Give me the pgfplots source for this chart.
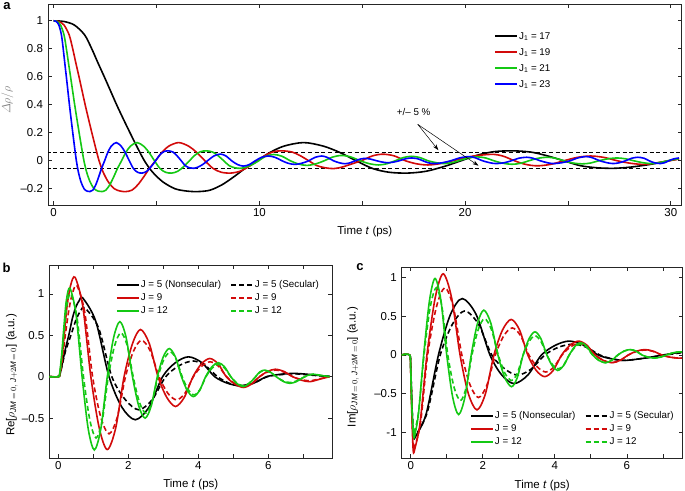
\documentclass[border=0pt]{standalone}
\usepackage{pgfplots}
\pgfplotsset{compat=1.18}
\usepackage{amsmath}
\usepackage{fontspec}
\setmainfont{Liberation Sans}
\usetikzlibrary{arrows.meta}
\definecolor{cred}{RGB}{210,10,10}
\definecolor{cgreen}{RGB}{20,200,20}
\definecolor{cblue}{RGB}{0,0,255}
\newcommand{\tickfont}{\fontsize{11.5bp}{13bp}\selectfont}
\newcommand{\legfont}{\fontsize{9.8bp}{11bp}\selectfont}
\pgfplotsset{
  panel/.style={
    scale only axis,
    axis line style={line width=0.7bp, black!85},
    every tick/.style={line width=0.7bp, black!85},
    tick align=inside,
    major tick length=4bp,
    xticklabel style={font=\tickfont},
    yticklabel style={font=\tickfont, xshift=-1.5bp},
    /pgf/number format/assume math mode=true,
    every axis x label/.style={at={(axis description cs:0.5,0)}, anchor=center, yshift=-27bp, font=\tickfont},
    legend cell align=left,
    legend image code/.code={\draw[##1, line width=1.8bp] (0bp,0bp) -- (22bp,0bp);},
  },
}
\begin{document}
\begin{tikzpicture}
\path[use as bounding box] (0,0) rectangle (685bp,-491bp);
\node[font=\bfseries\fontsize{13bp}{15bp}\selectfont] at (7bp,-6bp) {a};
\node[font=\bfseries\fontsize{13bp}{15bp}\selectfont] at (6.5bp,-267.5bp) {b};
\node[font=\bfseries\fontsize{13bp}{15bp}\selectfont] at (360bp,-267bp) {c};

% ---------------- panel a ----------------
\begin{axis}[panel,
  at={(48bp,-4bp)}, anchor=north west,
  width=633.7bp, height=201bp,
  xmin=-0.277, xmax=30.53, ymin=-0.316, ymax=1.12,
  xtick={0,5,...,30}, xticklabels={0,,10,,20,,30},
  ytick={-0.2,0,0.2,0.4,0.6,0.8,1}, yticklabels={–0.2,0,0.2,0.4,0.6,0.8,1},
  xlabel={Time \textit{t} (ps)},
  ylabel={$\varDelta\rho/\rho$},
  ylabel style={at={(axis description cs:-0.064,0.522)}, anchor=center, text=black!50, font=\fontsize{12.5bp}{14bp}\selectfont},
  legend style={draw=none, fill=none, at={(axis description cs:0.704,0.866)}, anchor=north west,
    font=\legfont, inner sep=0pt, row sep=5.5bp,
    nodes={inner sep=1bp, text height=7bp, text depth=1.5bp}},
]
\addplot[black, dash pattern=on 4bp off 2.7bp, line width=0.8bp, forget plot] coordinates {(-1,0.058) (31,0.058)};
\addplot[black, dash pattern=on 4bp off 2.7bp, line width=0.8bp, forget plot] coordinates {(-1,-0.054) (31,-0.054)};
\addplot[black, line width=1.6bp, smooth] coordinates {
(0,1) (0.5,0.995) (1,0.97) (1.5,0.9) (1.85,0.8) (2.15,0.7) (2.46,0.6) (2.76,0.5) (3.06,0.4) (3.38,0.3) (3.71,0.2) (4.05,0.1) (4.41,0) (4.8,-0.08) (5.3,-0.15) (5.9,-0.2) (6.5,-0.217) (7.03,-0.22) (7.6,-0.21) (8.2,-0.17) (8.8,-0.11) (9.3,-0.055) (9.9,0) (10.5,0.058) (11.2,0.105) (12.15,0.13) (13.1,0.105) (13.9,0.06) (14.7,0) (15.5,-0.055) (16.3,-0.082) (17.2,-0.088) (18.1,-0.075) (19,-0.04) (19.8,0) (20.6,0.04) (21.4,0.065) (22.3,0.071) (23.2,0.062) (24,0.035) (24.8,0) (25.6,-0.035) (26.4,-0.05) (27.2,-0.054) (28,-0.046) (29,-0.026) (29.9,0) (30.4,0.015)};
\addlegendentry{J\textsubscript{1} = 17}
\addplot[cred, line width=1.6bp, smooth] coordinates {
(0,1) (0.25,0.995) (0.5,0.97) (0.75,0.9) (0.925,0.8) (1.075,0.7) (1.23,0.6) (1.38,0.5) (1.53,0.4) (1.69,0.3) (1.855,0.2) (2.025,0.1) (2.205,0) (2.4,-0.08) (2.65,-0.15) (2.95,-0.2) (3.25,-0.217) (3.515,-0.22) (3.8,-0.21) (4.1,-0.17) (4.4,-0.11) (4.65,-0.055) (4.95,0) (5.25,0.058) (5.6,0.105) (6.075,0.13) (6.55,0.105) (6.95,0.06) (7.35,0) (7.75,-0.055) (8.15,-0.082) (8.6,-0.088) (9.05,-0.075) (9.5,-0.04) (9.9,0) (10.3,0.04) (10.7,0.065) (11.1,0.071) (11.6,0.062) (12,0.035) (12.4,0) (12.8,-0.035) (13.2,-0.05) (13.6,-0.056) (14.0,-0.046) (14.5,-0.022) (14.95,0) (15.5,0.035) (16.0,0.047) (16.55,0.035) (17.1,0) (17.65,-0.022) (18.2,-0.03) (18.8,-0.02) (19.4,0) (20.35,0.032) (21.3,0.046) (21.85,0.033) (22.4,0) (22.95,-0.026) (23.5,-0.036) (24.15,-0.026) (24.8,0) (25.45,0.024) (26.1,0.034) (26.75,0.024) (27.4,0) (28.05,-0.018) (28.7,-0.026) (29.3,-0.015) (29.9,0) (30.4,0.012)};
\addlegendentry{J\textsubscript{1} = 19}
\addplot[cgreen, line width=1.6bp, smooth] coordinates {
(0,1) (0.167,0.995) (0.333,0.97) (0.5,0.9) (0.617,0.8) (0.717,0.7) (0.82,0.6) (0.92,0.5) (1.02,0.4) (1.127,0.3) (1.237,0.2) (1.35,0.1) (1.47,0) (1.6,-0.08) (1.767,-0.15) (1.967,-0.2) (2.167,-0.217) (2.343,-0.22) (2.533,-0.21) (2.733,-0.17) (2.933,-0.11) (3.1,-0.055) (3.3,0) (3.5,0.058) (3.733,0.105) (4.05,0.13) (4.367,0.105) (4.633,0.06) (4.9,0) (5.167,-0.055) (5.433,-0.082) (5.733,-0.088) (6.033,-0.075) (6.333,-0.04) (6.6,0) (6.867,0.04) (7.133,0.065) (7.433,0.071) (7.733,0.062) (8,0.035) (8.267,0) (8.533,-0.035) (8.8,-0.05) (9.067,-0.054) (9.333,-0.046) (9.667,-0.026) (9.967,0) (10.3,0.032) (10.7,0.045) (11.1,0.032) (11.5,0) (11.9,-0.023) (12.3,-0.033) (12.72,-0.023) (13.15,0) (13.57,0.027) (14,0.038) (14.45,0.027) (14.9,0) (15.35,-0.021) (15.8,-0.03) (16.2,-0.021) (16.6,0) (17,0.023) (17.4,0.032) (17.8,0.023) (18.2,0) (18.6,-0.014) (19,-0.02) (19.45,-0.01) (19.9,0.01) (20.25,0.022) (20.6,0.028) (21.0,0.02) (21.4,0) (21.85,-0.018) (22.3,-0.025) (22.7,-0.018) (23.1,0) (23.55,0.018) (24,0.025) (24.4,0.018) (24.8,0) (25.25,-0.016) (25.7,-0.022) (26.1,-0.016) (26.5,0) (26.95,0.014) (27.4,0.02) (27.8,0.014) (28.2,0) (28.65,-0.014) (29.1,-0.02) (29.55,-0.01) (30,0.005) (30.4,0.015)};
\addlegendentry{J\textsubscript{1} = 21}
\addplot[cblue, line width=1.6bp, smooth] coordinates {
(0,1) (0.125,0.995) (0.25,0.97) (0.375,0.9) (0.4625,0.8) (0.5375,0.7) (0.615,0.6) (0.69,0.5) (0.765,0.4) (0.845,0.3) (0.9275,0.2) (1.0125,0.1) (1.1025,0) (1.2,-0.08) (1.325,-0.15) (1.475,-0.2) (1.625,-0.217) (1.7575,-0.22) (1.9,-0.21) (2.05,-0.17) (2.2,-0.11) (2.325,-0.055) (2.475,0) (2.625,0.058) (2.8,0.105) (3.0375,0.13) (3.275,0.105) (3.475,0.06) (3.675,0) (3.875,-0.055) (4.075,-0.082) (4.3,-0.088) (4.525,-0.075) (4.75,-0.04) (4.95,0) (5.15,0.04) (5.35,0.065) (5.575,0.071) (5.8,0.062) (6,0.035) (6.2,0) (6.4,-0.035) (6.6,-0.05) (6.8,-0.054) (7,-0.046) (7.25,-0.026) (7.475,0) (7.8,0.035) (8.1,0.048) (8.38,0.034) (8.65,0) (8.94,-0.027) (9.22,-0.038) (9.51,-0.027) (9.8,0) (10.1,0.024) (10.43,0.034) (10.77,0.024) (11.1,0) (11.4,-0.018) (11.73,-0.026) (12.05,-0.018) (12.4,0) (12.7,0.024) (13.03,0.034) (13.3,0.024) (13.6,0) (13.9,-0.015) (14.16,-0.021) (14.4,-0.015) (14.65,0) (14.9,0.012) (15.13,0.017) (15.4,0.012) (15.7,0) (16,-0.01) (16.27,-0.014) (16.5,-0.01) (16.8,0) (17.1,0.014) (17.4,0.02) (17.7,0.014) (17.95,0) (18.2,-0.014) (18.5,-0.02) (18.9,-0.014) (19.3,0) (19.75,0.021) (20.2,0.03) (20.5,0.021) (20.85,0) (21.2,-0.014) (21.5,-0.02) (21.9,-0.014) (22.25,0) (22.6,0.018) (23,0.025) (23.3,0.018) (23.65,0) (24,-0.014) (24.3,-0.02) (24.7,-0.014) (25.1,0) (25.5,0.021) (25.9,0.03) (26.2,0.021) (26.55,0) (26.9,-0.014) (27.2,-0.02) (27.5,-0.014) (27.8,0) (28.1,0.018) (28.4,0.025) (28.7,0.018) (28.95,0) (29.2,-0.014) (29.5,-0.02) (29.7,-0.014) (29.9,0) (30.15,0.014) (30.4,0.02)};
\addlegendentry{J\textsubscript{1} = 23}
\node[font=\legfont] at (axis cs:17.5,0.35) {+/– 5 \%};
\draw[-{Stealth[length=6bp,width=4bp]}, line width=0.5bp] (axis cs:17.7,0.26) -- (axis cs:18.7,0.076);
\draw[-{Stealth[length=6bp,width=4bp]}, line width=0.5bp] (axis cs:17.7,0.26) -- (axis cs:20.65,-0.035);
\end{axis}

% ---------------- panel b ----------------
\begin{axis}[panel,
  at={(49.3bp,-265bp)}, anchor=north west,
  width=283bp, height=193bp,
  xmin=-0.257, xmax=7.83, ymin=-0.982, ymax=1.349,
  xtick={0,1,...,7}, xticklabels={0,,2,,4,,6,},
  ytick={-0.5,0,0.5,1}, yticklabels={–0.5,0,0.5,1},
  xlabel={Time \textit{t} (ps)},
  ylabel={Re[$\rho_{\mathit{JM}\,=\,0,\;\mathit{J}+2\mathit{M}\,=\,0}$] (a.u.)},
  ylabel style={at={(axis description cs:-0.132,0.43)}, anchor=center, font=\tickfont},
  legend columns=2,
  legend style={draw=none, fill=none, at={(axis description cs:0.235,0.925)}, anchor=north west,
    font=\legfont, inner sep=0pt, row sep=2.5bp,
    nodes={inner sep=1bp, text height=7bp, text depth=1.5bp},
    /tikz/every even column/.append style={column sep=8bp}},
]
\addplot[black, line width=1.6bp, smooth] coordinates {
(-0.26,0) (0,0) (0.05,0.03) (0.1,0.13) (0.2,0.33) (0.31,0.52) (0.4,0.7) (0.5,0.84) (0.6,0.92) (0.7,0.95) (1.07,0.67) (1.45,0) (1.82,-0.37) (2.2,-0.52) (2.59,-0.37) (2.98,0) (3.35,0.17) (3.72,0.24) (4.1,0.17) (4.47,0) (4.83,-0.078) (5.2,-0.11) (5.58,-0.078) (5.95,0) (6.33,0.028) (6.72,0.04) (7.1,0.03) (7.45,0.015) (7.75,0.005)};
\addlegendentry{J = 5 (Nonsecular)}
\addplot[black, line width=1.6bp, smooth, dash pattern=on 5bp off 3bp] coordinates {
(-0.26,0) (0,0) (0.05,0.03) (0.1,0.12) (0.2,0.3) (0.36,0.5) (0.5,0.68) (0.63,0.79) (0.76,0.83) (1.15,0.59) (1.53,0) (1.92,-0.28) (2.3,-0.4) (2.68,-0.28) (3.07,0) (3.46,0.135) (3.85,0.19) (4.2,0.135) (4.55,0) (4.88,-0.078) (5.2,-0.11) (5.58,-0.078) (5.97,0) (6.36,0.025) (6.75,0.035) (7.2,0.02) (7.75,0)};
\addlegendentry{J = 5 (Secular)}
\addplot[cred, line width=1.6bp, smooth] coordinates {
(-0.26,0) (0,0) (0.04,0.03) (0.1,0.2) (0.17,0.5) (0.25,0.85) (0.35,1.1) (0.48,1.2) (0.7,0.85) (0.93,0) (1.17,-0.62) (1.4,-0.88) (1.64,-0.62) (1.88,0) (2.12,0.40) (2.35,0.57) (2.6,0.40) (2.85,0) (3.1,-0.25) (3.35,-0.36) (3.6,-0.25) (3.85,0) (4.09,0.155) (4.33,0.22) (4.57,0.155) (4.8,0) (5.05,-0.09) (5.29,-0.13) (5.52,-0.09) (5.75,0) (5.98,0.063) (6.2,0.09) (6.45,0.063) (6.7,0) (6.95,-0.042) (7.19,-0.06) (7.47,-0.03) (7.75,0)};
\addlegendentry{J = 9}
\addplot[cred, line width=1.6bp, smooth, dash pattern=on 5bp off 3bp] coordinates {
(-0.26,0) (0,0) (0.04,0.02) (0.1,0.16) (0.2,0.5) (0.3,0.8) (0.4,1.0) (0.53,1.1) (0.755,0.78) (0.98,0) (1.215,-0.49) (1.45,-0.69) (1.685,-0.49) (1.92,0) (2.15,0.31) (2.38,0.44) (2.63,0.31) (2.88,0) (3.13,-0.2) (3.38,-0.28) (3.62,-0.2) (3.86,0) (4.1,0.127) (4.34,0.18) (4.575,0.127) (4.81,0) (5.05,-0.085) (5.29,-0.12) (5.52,-0.085) (5.75,0) (5.98,0.056) (6.2,0.08) (6.45,0.056) (6.7,0) (6.95,-0.035) (7.19,-0.05) (7.47,-0.025) (7.75,0)};
\addlegendentry{J = 9}
\addplot[cgreen, line width=1.6bp, smooth] coordinates {
(-0.26,0) (0,0) (0.04,0.04) (0.1,0.28) (0.16,0.6) (0.23,0.92) (0.33,1.07) (0.505,0.76) (0.68,0) (0.855,-0.63) (1.03,-0.885) (1.215,-0.63) (1.4,0) (1.58,0.47) (1.76,0.665) (1.94,0.47) (2.12,0) (2.3,-0.355) (2.48,-0.5) (2.655,-0.355) (2.83,0) (3.0,0.24) (3.17,0.34) (3.345,0.24) (3.52,0) (3.69,-0.17) (3.86,-0.24) (4.035,-0.17) (4.21,0) (4.39,0.12) (4.57,0.17) (4.75,0.12) (4.93,0) (5.11,-0.085) (5.29,-0.12) (5.45,-0.085) (5.6,-0.02) (5.75,0.055) (5.9,0.08) (6.08,0.05) (6.26,-0.01) (6.44,-0.06) (6.62,-0.08) (6.8,-0.06) (6.96,-0.02) (7.12,0.015) (7.29,0.03) (7.5,0.015) (7.75,0)};
\addlegendentry{J = 12}
\addplot[cgreen, line width=1.6bp, smooth, dash pattern=on 5bp off 3bp] coordinates {
(-0.26,0) (0,0) (0.04,0.03) (0.1,0.24) (0.17,0.58) (0.25,0.88) (0.36,1.0) (0.54,0.7) (0.72,0) (0.9,-0.52) (1.08,-0.74) (1.26,-0.52) (1.43,0) (1.61,0.375) (1.79,0.53) (1.97,0.375) (2.14,0) (2.32,-0.31) (2.5,-0.44) (2.675,-0.31) (2.85,0) (3.02,0.21) (3.2,0.3) (3.37,0.21) (3.54,0) (3.71,-0.155) (3.88,-0.22) (4.05,-0.155) (4.22,0) (4.4,0.105) (4.57,0.15) (4.75,0.105) (4.93,0) (5.11,-0.078) (5.29,-0.11) (5.45,-0.078) (5.6,-0.02) (5.75,0.05) (5.9,0.075) (6.08,0.047) (6.26,-0.01) (6.44,-0.053) (6.62,-0.07) (6.8,-0.053) (6.96,-0.018) (7.12,0.013) (7.29,0.03) (7.5,0.015) (7.75,0)};
\addlegendentry{J = 12}
\end{axis}

% ---------------- panel c ----------------
\begin{axis}[panel,
  at={(401.7bp,-267.3bp)}, anchor=north west,
  width=281bp, height=191bp,
  xmin=-0.25, xmax=7.55, ymin=-1.336, ymax=1.134,
  xtick={0,1,...,7}, xticklabels={0,,2,,4,,6,},
  ytick={-1,-0.5,0,0.5,1}, yticklabels={-1,–0.5,0,0.5,1},
  xlabel={Time \textit{t} (ps)},
  ylabel={Im[$\rho_{\mathit{JM}\,=\,0,\;\mathit{J}+2\mathit{M}\,=\,0}$] (a.u.)},
  ylabel style={at={(axis description cs:-0.173,0.478)}, anchor=center, font=\tickfont},
  legend columns=2,
  legend style={draw=none, fill=none, at={(axis description cs:0.243,0.25)}, anchor=north west,
    font=\legfont, inner sep=0pt, row sep=2.5bp,
    nodes={inner sep=1bp, text height=7bp, text depth=1.5bp},
    /tikz/every even column/.append style={column sep=8.5bp}},
]
\addplot[black, line width=1.6bp, smooth] coordinates {
(-0.25,0) (-0.03,0) (0.0,-0.15) (0.03,-0.6) (0.06,-0.95) (0.09,-1.07) (0.14,-1.05) (0.43,-0.76) (0.77,0) (1.1,0.52) (1.43,0.73) (1.82,0.52) (2.2,0) (2.53,-0.26) (2.87,-0.37) (3.25,-0.26) (3.63,0) (4.02,0.127) (4.4,0.18) (4.8,0.127) (5.2,0) (5.58,-0.05) (5.95,-0.07) (6.5,-0.04) (7.0,0.0) (7.53,0.04)};
\addlegendentry{J = 5 (Nonsecular)}
\addplot[black, line width=1.6bp, smooth, dash pattern=on 5bp off 3bp] coordinates {
(-0.25,0) (-0.03,0) (0.0,-0.15) (0.03,-0.6) (0.06,-0.93) (0.1,-1.05) (0.15,-1.03) (0.46,-0.74) (0.82,0) (1.16,0.4) (1.5,0.57) (1.88,0.4) (2.25,0) (2.61,-0.18) (2.97,-0.26) (3.35,-0.18) (3.72,0) (4.1,0.1) (4.5,0.14) (4.88,0.1) (5.25,0) (5.6,-0.05) (5.95,-0.07) (6.5,-0.04) (7.0,-0.005) (7.53,0.03)};
\addlegendentry{J = 5 (Secular)}
\addplot[cred, line width=1.6bp, smooth] coordinates {
(-0.25,0) (-0.03,0) (0.0,-0.2) (0.03,-0.75) (0.07,-1.24) (0.12,-1.2) (0.26,-0.88) (0.45,0) (0.68,0.74) (0.9,1.05) (1.135,0.74) (1.37,0) (1.6,-0.5) (1.84,-0.71) (2.075,-0.5) (2.31,0) (2.55,0.325) (2.79,0.46) (3.02,0.325) (3.25,0) (3.485,-0.2) (3.72,-0.28) (3.955,-0.2) (4.19,0) (4.425,0.127) (4.66,0.18) (4.89,0.127) (5.12,0) (5.35,-0.07) (5.58,-0.1) (5.81,-0.07) (6.04,0) (6.27,0.05) (6.5,0.07) (6.73,0.05) (6.97,0) (7.2,-0.028) (7.43,-0.04) (7.53,-0.04)};
\addlegendentry{J = 9}
\addplot[cred, line width=1.6bp, smooth, dash pattern=on 5bp off 3bp] coordinates {
(-0.25,0) (-0.03,0) (0.0,-0.2) (0.03,-0.72) (0.08,-1.2) (0.13,-1.16) (0.28,-0.85) (0.47,0) (0.71,0.615) (0.95,0.87) (1.185,0.615) (1.42,0) (1.65,-0.39) (1.88,-0.55) (2.115,-0.39) (2.35,0) (2.585,0.25) (2.82,0.35) (3.05,0.25) (3.28,0) (3.515,-0.155) (3.75,-0.22) (3.975,-0.155) (4.2,0) (4.44,0.106) (4.68,0.15) (4.9,0.106) (5.12,0) (5.35,-0.07) (5.58,-0.1) (5.81,-0.07) (6.04,0) (6.27,0.046) (6.5,0.065) (6.73,0.046) (6.97,0) (7.2,-0.028) (7.43,-0.04) (7.53,-0.04)};
\addlegendentry{J = 9}
\addplot[cgreen, line width=1.6bp, smooth] coordinates {
(-0.25,0) (-0.03,0) (0.0,-0.18) (0.03,-0.65) (0.08,-1.05) (0.13,-1.0) (0.22,-0.74) (0.36,0) (0.52,0.7) (0.675,0.99) (0.84,0.7) (1.0,0) (1.165,-0.545) (1.33,-0.77) (1.505,-0.545) (1.68,0) (1.855,0.41) (2.03,0.58) (2.225,0.41) (2.42,0) (2.61,-0.29) (2.8,-0.41) (2.96,-0.29) (3.12,0) (3.285,0.21) (3.45,0.3) (3.615,0.21) (3.78,0) (3.93,-0.14) (4.08,-0.2) (4.24,-0.14) (4.4,0) (4.56,0.113) (4.72,0.16) (4.885,0.113) (5.05,0) (5.225,-0.07) (5.4,-0.1) (5.575,-0.07) (5.75,0) (5.92,0.05) (6.09,0.07) (6.255,0.05) (6.42,0) (6.59,-0.028) (6.76,-0.04) (6.93,-0.028) (7.1,0) (7.28,0.028) (7.45,0.04) (7.53,0.038)};
\addlegendentry{J = 12}
\addplot[cgreen, line width=1.6bp, smooth, dash pattern=on 5bp off 3bp] coordinates {
(-0.25,0) (-0.03,0) (0.0,-0.18) (0.03,-0.62) (0.08,-1.0) (0.13,-0.95) (0.225,-0.71) (0.37,0) (0.54,0.615) (0.71,0.87) (0.87,0.615) (1.03,0) (1.205,-0.42) (1.38,-0.59) (1.54,-0.42) (1.7,0) (1.875,0.33) (2.05,0.47) (2.24,0.33) (2.43,0) (2.615,-0.235) (2.8,-0.33) (2.96,-0.235) (3.12,0) (3.285,0.175) (3.45,0.25) (3.615,0.175) (3.78,0) (3.94,-0.127) (4.1,-0.18) (4.25,-0.127) (4.4,0) (4.56,0.1) (4.72,0.14) (4.885,0.1) (5.05,0) (5.225,-0.07) (5.4,-0.1) (5.575,-0.07) (5.75,0) (5.92,0.05) (6.09,0.07) (6.255,0.05) (6.42,0) (6.59,-0.028) (6.76,-0.04) (6.93,-0.028) (7.1,0) (7.28,0.028) (7.45,0.04) (7.53,0.038)};
\addlegendentry{J = 12}
\end{axis}
\end{tikzpicture}
\end{document}
